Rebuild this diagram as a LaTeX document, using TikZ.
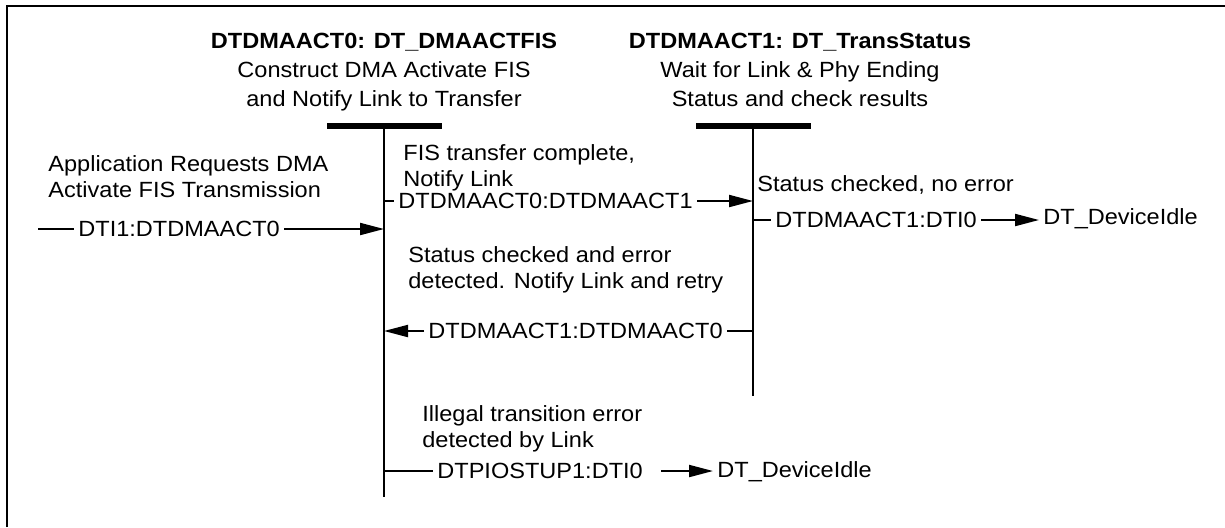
\documentclass[tikz,border=0pt]{standalone}
\usepackage{fontspec}
\setmainfont{Liberation Sans}[FakeStretch=1.07]
\usetikzlibrary{arrows.meta}

\begin{document}
\begin{tikzpicture}[
  x=0.5pt,y=-0.5pt,
  every node/.style={inner sep=0pt,font=\fontsize{11}{13}\selectfont},
  title/.style={align=center,anchor=north,font=\fontsize{11}{14.5}\selectfont},
  note/.style={align=left,anchor=north west},
  lbl/.style={anchor=west,inner xsep=2pt},
  idle/.style={anchor=base west,inner xsep=2pt},
  bar/.style={fill=black,minimum width=57.5pt,minimum height=3.2pt},
  wire/.style={line width=1pt},
  edge/.style={-{Triangle[length=12pt,width=6pt]},line width=1pt}
]
\useasboundingbox (0,0) rectangle (1225,527);
\draw[line width=1.2pt] (7,527) |- (1225,6);

\node[bar] (bar0) at (384,126) {};
\node[bar] (bar1) at (753,126) {};
\node[title] (t0) at (384,33) {\textbf{DTDMAACT0: DT\_DMAACTFIS}\\Construct DMA Activate FIS\\and Notify Link to Transfer};
\node[title] (t1) at (800,33) {\textbf{DTDMAACT1: DT\_TransStatus}\\Wait for Link \& Phy Ending\\Status and check results};
\coordinate (end0) at (384,497);
\coordinate (end1) at (753,396);
\draw[wire] (bar0.center) -- (end0);
\draw[wire] (bar1.center) -- (end1);

\node[note] (n0) at (48,155) {Application Requests DMA\\Activate FIS Transmission};
\node[note] (n1) at (403,144) {FIS transfer complete,\\Notify Link};
\node[note] (n2) at (408,246) {Status checked and error\\detected. Notify Link and retry};
\node[note] (n3) at (422,405) {Illegal transition error\\detected by Link};
\node[note] (n4) at (757,175) {Status checked, no error};

\coordinate (src) at (38,229);
\node[lbl] (l0) at (74,229) {DTI1:DTDMAACT0};
\draw[wire] (src) -- (l0.west);
\draw[edge] (l0.east) -- (l0.east -| bar0);

\node[lbl] (l1) at (394,201) {DTDMAACT0:DTDMAACT1};
\draw[wire] (l1.west -| bar0) -- (l1.west);
\draw[edge] (l1.east) -- (l1.east -| bar1);

\node[lbl] (l2) at (771,220) {DTDMAACT1:DTI0};
\node[idle] (idle0) at (1039,224) {DT\_DeviceIdle};
\draw[wire] (l2.west -| bar1) -- (l2.west);
\draw[edge] (l2.east) -- (l2.east -| idle0.west);

\node[lbl] (l3) at (424,331) {DTDMAACT1:DTDMAACT0};
\draw[wire] (l3.east -| bar1) -- (l3.east);
\draw[edge] (l3.west) -- (l3.west -| bar0);

\node[lbl] (l4) at (433,471) {DTPIOSTUP1:DTI0};
\node[idle] (idle1) at (713,477) {DT\_DeviceIdle};
\draw[wire] (l4.west -| bar0) -- (l4.west);
\draw[edge,shorten <=7pt] (l4.east) -- (l4.east -| idle1.west);
\end{tikzpicture}
\end{document}
